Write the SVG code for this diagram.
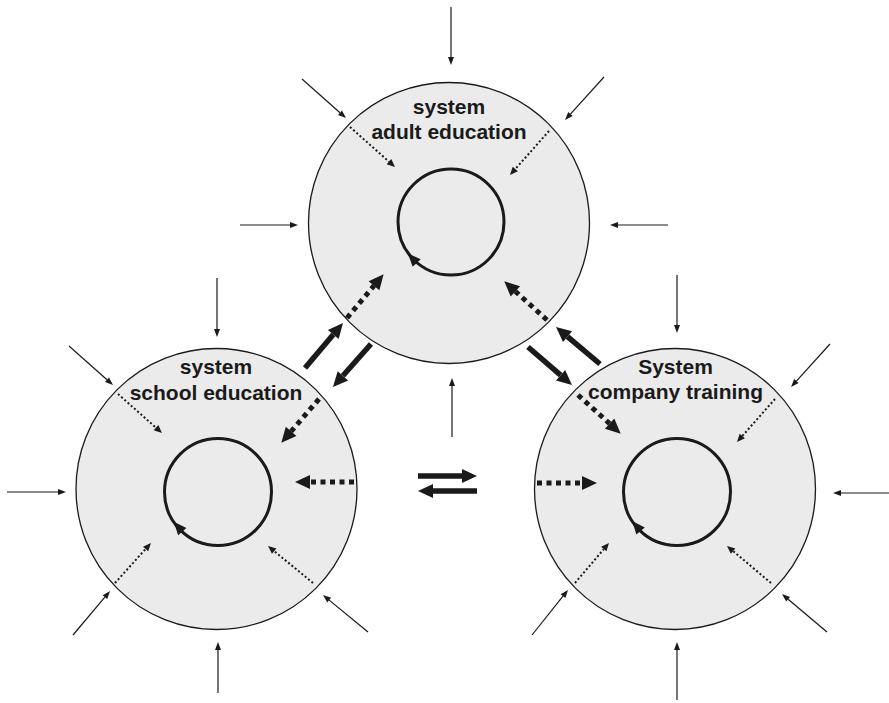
<svg xmlns="http://www.w3.org/2000/svg" width="889" height="703" viewBox="0 0 889 703">
<style>
.outer{fill:#ebebeb;stroke:#1a1a1a;stroke-width:1.3}
.inner{fill:none;stroke:#1a1a1a;stroke-width:3}
.lbl{font-family:"Liberation Sans",Arial,sans-serif;font-weight:bold;font-size:21px;fill:#1a1a1a;text-anchor:middle}
.thin{stroke:#1a1a1a;stroke-width:1.2;fill:none;marker-end:url(#hThin)}
.dot{stroke:#1a1a1a;stroke-width:2;stroke-dasharray:2 2.3;fill:none;marker-end:url(#hDot)}
.dash{stroke:#1a1a1a;stroke-width:5;stroke-dasharray:5 4.5;fill:none;marker-end:url(#hBig)}
.bold{stroke:#1a1a1a;stroke-width:5.5;fill:none;marker-end:url(#hBig)}
.head{fill:#1a1a1a}
</style>
<defs>
<marker id="hThin" markerUnits="userSpaceOnUse" markerWidth="10" markerHeight="10" refX="0" refY="5" orient="auto" overflow="visible"><path d="M0,2 L8,5 L0,8 z" fill="#1a1a1a"/></marker>
<marker id="hDot" markerUnits="userSpaceOnUse" markerWidth="10" markerHeight="10" refX="0" refY="5" orient="auto" overflow="visible"><path d="M0,1.5 L8,5 L0,8.5 z" fill="#1a1a1a"/></marker>
<marker id="hBig" markerUnits="userSpaceOnUse" markerWidth="16" markerHeight="16" refX="0" refY="8" orient="auto" overflow="visible"><path d="M0,1 L15,8 L0,15 z" fill="#1a1a1a"/></marker>
<path id="cycHead" d="M-6.5,53 L6.5,47.5 L6.5,58.5 z"/>
</defs>

<g id="node-adult">
<circle class="outer" cx="449" cy="223" r="140.5"/>
<circle class="inner" cx="451" cy="222" r="53"/>
<use href="#cycHead" class="head" transform="translate(451,222) rotate(47)"/>
<text class="lbl" x="449" y="114">system</text>
<text class="lbl" x="449" y="139">adult education</text>
</g>

<g id="node-school">
<circle class="outer" cx="216.5" cy="489" r="140.5"/>
<circle class="inner" cx="218" cy="492" r="53.5"/>
<use href="#cycHead" class="head" transform="translate(218,492) rotate(49)"/>
<text class="lbl" x="216" y="374">system</text>
<text class="lbl" x="216" y="400">school education</text>
</g>

<g id="node-company">
<circle class="outer" cx="675" cy="489" r="140.5"/>
<circle class="inner" cx="677" cy="492" r="53.5"/>
<use href="#cycHead" class="head" transform="translate(677,492) rotate(50)"/>
<text class="lbl" x="675.5" y="374">System</text>
<text class="lbl" x="675.5" y="399">company training</text>
</g>

<g id="connectors">
<!-- thick solid between circles -->
<line class="bold" x1="305" y1="368" x2="333.3" y2="334.5"/>
<line class="bold" x1="371" y1="344" x2="342.9" y2="375.8"/>
<line class="bold" x1="528" y1="347" x2="560.6" y2="375.2"/>
<line class="bold" x1="600" y1="364" x2="567.5" y2="336.6"/>
<line class="bold" x1="418" y1="476" x2="462" y2="476"/>
<line class="bold" x1="477" y1="491" x2="433" y2="491"/>

<!-- thick dashed -->
<line class="dash" x1="347" y1="318" x2="374" y2="285.7"/>
<line class="dash" x1="547" y1="320" x2="515.4" y2="291.4"/>
<line class="dash" x1="319" y1="399" x2="291.1" y2="431.4"/>
<line class="dash" x1="354" y1="482" x2="310" y2="482"/>
<line class="dash" x1="578" y1="395" x2="609.6" y2="423.6"/>
<line class="dash" x1="537" y1="483" x2="582" y2="483"/>

<!-- thin dotted -->
<line class="dot" x1="350" y1="127" x2="389" y2="161.7"/>
<line class="dot" x1="549" y1="131" x2="515.3" y2="169"/>
<line class="dot" x1="118" y1="394" x2="156" y2="427.7"/>
<line class="dot" x1="115" y1="583" x2="145.6" y2="549"/>
<line class="dot" x1="313" y1="583" x2="274.2" y2="551.1"/>
<line class="dot" x1="775" y1="399" x2="742.3" y2="436"/>
<line class="dot" x1="575" y1="583" x2="603.8" y2="549.1"/>
<line class="dot" x1="771" y1="583" x2="733.1" y2="551.1"/>

<!-- thin solid external -->
<line class="thin" x1="451" y1="7" x2="451" y2="57"/>
<line class="thin" x1="302" y1="79" x2="340" y2="112.7"/>
<line class="thin" x1="604" y1="77" x2="570.4" y2="114.1"/>
<line class="thin" x1="240" y1="225" x2="290" y2="225"/>
<line class="thin" x1="668" y1="225" x2="618" y2="225"/>
<line class="thin" x1="452" y1="437" x2="452" y2="386"/>

<line class="thin" x1="217" y1="278" x2="217" y2="329"/>
<line class="thin" x1="69" y1="346" x2="107" y2="379.7"/>
<line class="thin" x1="7" y1="492" x2="58" y2="492"/>
<line class="thin" x1="73" y1="635" x2="104.9" y2="597.1"/>
<line class="thin" x1="218" y1="693" x2="218" y2="650"/>
<line class="thin" x1="368" y1="632" x2="329.2" y2="600.1"/>

<line class="thin" x1="677" y1="275" x2="677" y2="325"/>
<line class="thin" x1="830" y1="344" x2="796.4" y2="381.1"/>
<line class="thin" x1="889" y1="493" x2="841" y2="493"/>
<line class="thin" x1="827" y1="632" x2="788.1" y2="599.2"/>
<line class="thin" x1="532" y1="635" x2="563" y2="596.2"/>
<line class="thin" x1="677" y1="700" x2="677" y2="650"/>
</g>
</svg>
